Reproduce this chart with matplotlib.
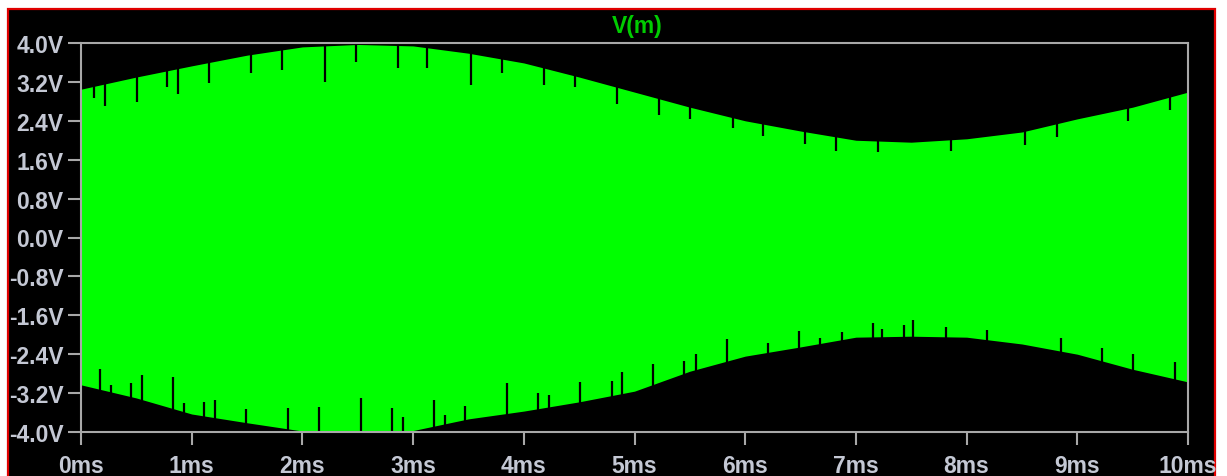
import numpy as np
import matplotlib
matplotlib.use("Agg")
from matplotlib import pyplot as plt
from matplotlib.patches import Rectangle

# envelope of V(m), read every 0.5 ms
t_ms = [0.0, 0.5, 1.0, 1.5, 2.0, 2.5, 3.0, 3.5, 4.0, 4.5, 5.0,
        5.5, 6.0, 6.5, 7.0, 7.5, 8.0, 8.5, 9.0, 9.5, 10.0]
upper = [3.05, 3.30, 3.53, 3.75, 3.92, 3.97, 3.94, 3.79, 3.59, 3.30, 2.99,
         2.68, 2.40, 2.19, 2.00, 1.96, 2.03, 2.17, 2.44, 2.68, 2.99]
lower = [-3.03, -3.30, -3.63, -3.81, -3.98, -4.0, -3.97, -3.73, -3.57, -3.38, -3.16,
         -2.75, -2.44, -2.25, -2.05, -2.03, -2.05, -2.19, -2.40, -2.71, -2.97]

# notches into the envelope (time in ms, depth in V)
notch_up_t = [0.12, 0.22, 0.51, 0.78, 0.88, 1.16, 1.54, 1.82, 2.20, 2.48, 2.86, 3.13,
              3.52, 3.80, 4.18, 4.46, 4.84, 5.22, 5.50, 5.89, 6.16, 6.54, 6.82, 7.20,
              7.86, 8.53, 8.82, 9.46, 9.84]
notch_up_d = [0.25, 0.45, 0.51, 0.33, 0.53, 0.43, 0.39, 0.41, 0.74, 0.35, 0.47, 0.41,
              0.64, 0.29, 0.35, 0.23, 0.35, 0.33, 0.25, 0.21, 0.25, 0.25, 0.29, 0.23,
              0.23, 0.29, 0.27, 0.27, 0.27]
notch_lo_t = [0.17, 0.27, 0.45, 0.55, 0.83, 0.93, 1.11, 1.21, 1.49, 1.87, 2.15, 2.53,
              2.81, 2.91, 3.19, 3.29, 3.47, 3.85, 4.13, 4.23, 4.51, 4.80, 4.89, 5.17,
              5.45, 5.56, 5.84, 6.21, 6.49, 6.68, 6.87, 7.15, 7.24, 7.43, 7.52, 7.81,
              8.18, 8.85, 9.22, 9.50, 9.88]
notch_lo_d = [0.41, 0.14, 0.29, 0.51, 0.64, 0.19, 0.29, 0.37, 0.27, 0.43, 0.49, 0.70,
              0.47, 0.29, 0.53, 0.19, 0.27, 0.62, 0.33, 0.25, 0.41, 0.29, 0.45, 0.41,
              0.25, 0.31, 0.45, 0.19, 0.33, 0.12, 0.16, 0.29, 0.16, 0.23, 0.33, 0.21,
              0.19, 0.27, 0.27, 0.31, 0.35]

y_ticks = [4.0, 3.2, 2.4, 1.6, 0.8, 0.0, -0.8, -1.6, -2.4, -3.2, -4.0]
x_ticks = [0, 1, 2, 3, 4, 5, 6, 7, 8, 9, 10]

W, H = 1227, 477
fig = plt.figure(figsize=(W / 100, H / 100), dpi=100)
fig.patch.set_facecolor("white")

# black panel with red border (bottom edge runs off the picture)
fig.patches.append(Rectangle((8 / W, -0.02), (1215 - 8) / W, (H - 10) / H + 0.02,
                             transform=fig.transFigure, facecolor="black",
                             edgecolor="#e00000", linewidth=1.6, zorder=-10))

ax = fig.add_axes([81 / W, (H - 433) / H, (1188 - 81) / W, (433 - 44) / H])
ax.set_facecolor("black")

green = "#00ff00"
ax.fill_between(t_ms, lower, upper, color=green, linewidth=0)

# notches
up_base = np.interp(notch_up_t, t_ms, upper)
lo_base = np.interp(notch_lo_t, t_ms, lower)
ax.vlines(notch_up_t, up_base - np.array(notch_up_d), up_base + 0.05,
          color="black", linewidth=1.6)
ax.vlines(notch_lo_t, lo_base - 0.05, lo_base + np.array(notch_lo_d),
          color="black", linewidth=1.6)

ax.set_xlim(0, 10)
ax.set_ylim(-4, 4)

txt = "#c4c8d4"
frame = "#a8a8a8"
ax.set_yticks(y_ticks)
ax.set_yticklabels(["%.1fV" % v for v in y_ticks])
ax.set_xticks(x_ticks)
ax.set_xticklabels(["%dms" % v for v in x_ticks])
ax.tick_params(axis="both", colors=frame, width=1.5, length=9.5, labelcolor=txt,
               labelsize=16.5)
ax.tick_params(axis="y", pad=3)
ax.tick_params(axis="x", pad=6)
for lab in ax.get_xticklabels() + ax.get_yticklabels():
    lab.set_fontweight("bold")
    lab.set_fontfamily("Liberation Sans")
for sp in ax.spines.values():
    sp.set_color(frame)
    sp.set_linewidth(1.5)

fig.text(637 / W, (H - 27) / H, "V(m)", color="#00cc00", fontsize=16.5,
         fontweight="bold", family="Liberation Sans", ha="center", va="center")

fig.savefig("out.png", dpi=100, facecolor="white")
